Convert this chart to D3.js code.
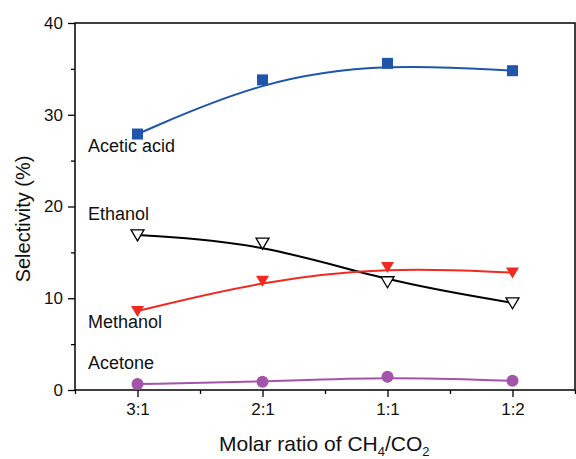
<!DOCTYPE html>
<html>
<head>
<meta charset="utf-8">
<script src="https://cdn.jsdelivr.net/npm/d3@7"></script>
<style>
  html, body { margin: 0; padding: 0; background: #fff; }
  svg { display: block; font-family: "Liberation Sans", Arial, sans-serif; }
</style>
</head>
<body>
<div id="chart"></div>
<script>
/* ---------- datos ---------- */
const ratios = ['3:1', '2:1', '1:1', '1:2'];

const aceticAcid = [27.9, 33.8, 35.6, 34.8];
const ethanol    = [16.9, 16.0, 11.8, 9.5];
const methanol   = [8.6, 11.9, 13.4, 12.8];
const acetone    = [0.65, 0.9, 1.45, 1.0];

const yTicks = [0, 10, 20, 30, 40];

// series: nombre, valores, color, marcador
const series = [
  { name: 'Acetic acid', values: aceticAcid, color: '#1F55AB', marker: 'square',  labelY: 25.9 },
  { name: 'Ethanol',     values: ethanol,    color: '#000000', marker: 'triOpen', labelY: 18.5 },
  { name: 'Methanol',    values: methanol,   color: '#F02A20', marker: 'triFill', labelY: 6.75 },
  { name: 'Acetone',     values: acetone,    color: '#A453AB', marker: 'circle',  labelY: 2.3 }
];

/* ---------- layout ---------- */
const W = 576, H = 459;
const plot = { left: 75, right: 575, top: 23, bottom: 390 };

const svg = d3.select('#chart').append('svg')
  .attr('width', W).attr('height', H);

// x: índice de categoría, con medio paso de margen
const x = d3.scaleLinear().domain([-0.5, ratios.length - 0.5]).range([plot.left, plot.right]);
const y = d3.scaleLinear().domain([0, 40]).range([plot.bottom, plot.top]);

/* ---------- ejes ---------- */
const xAxis = d3.axisBottom(x)
  .tickValues(d3.range(ratios.length))
  .tickFormat(i => ratios[i])
  .tickSize(7).tickPadding(6);

const xMinor = d3.axisBottom(x)
  .tickValues(d3.range(-0.5, ratios.length, 1))
  .tickFormat('').tickSize(4);

const yAxis = d3.axisLeft(y)
  .tickValues(yTicks)
  .tickSize(7).tickPadding(5);

const yMinor = d3.axisLeft(y)
  .tickValues([5, 15, 25, 35])
  .tickFormat('').tickSize(4);

function styleAxis(g) {
  g.select('.domain').remove();
  g.selectAll('line').attr('stroke', '#000').attr('stroke-width', 1.3);
  g.selectAll('text').attr('fill', '#111').style('font-size', '17px');
}

svg.append('g').attr('transform', `translate(0,${plot.bottom})`).call(xAxis).call(styleAxis);
svg.append('g').attr('transform', `translate(0,${plot.bottom})`).call(xMinor).call(styleAxis);
svg.append('g').attr('transform', `translate(${plot.left},0)`).call(yAxis).call(styleAxis);
svg.append('g').attr('transform', `translate(${plot.left},0)`).call(yMinor).call(styleAxis);

// marco
svg.append('rect')
  .attr('x', plot.left).attr('y', plot.top)
  .attr('width', plot.right - plot.left).attr('height', plot.bottom - plot.top)
  .attr('fill', 'none').attr('stroke', '#000').attr('stroke-width', 1.5);

/* ---------- títulos ---------- */
svg.append('text')
  .attr('transform', `translate(30,219) rotate(-90)`)
  .attr('text-anchor', 'middle')
  .style('font-size', '20px').attr('fill', '#111')
  .text('Selectivity (%)');

const xt = svg.append('text')
  .attr('x', 219).attr('y', 451)
  .style('font-size', '21px').attr('fill', '#111');
xt.append('tspan').text('Molar ratio of CH');
xt.append('tspan').attr('dy', 5).style('font-size', '13px').text('4');
xt.append('tspan').attr('dy', -5).text('/CO');
xt.append('tspan').attr('dy', 5).style('font-size', '13px').text('2');

/* ---------- curvas ---------- */
const line = d3.line()
  .x((d, i) => x(i))
  .y(d => y(d))
  .curve(d3.curveBasis);

const triDown = 'M-6.5,-5 L6.5,-5 L0,6 Z';

series.forEach(s => {
  svg.append('path')
    .attr('d', line(s.values))
    .attr('fill', 'none')
    .attr('stroke', s.color)
    .attr('stroke-width', 2);

  const g = svg.append('g');
  s.values.forEach((v, i) => {
    const cx = x(i), cy = y(v);
    if (s.marker === 'square') {
      g.append('rect').attr('x', cx - 5.5).attr('y', cy - 5.5)
        .attr('width', 11).attr('height', 11).attr('fill', s.color);
    } else if (s.marker === 'circle') {
      g.append('circle').attr('cx', cx).attr('cy', cy).attr('r', 6).attr('fill', s.color);
    } else if (s.marker === 'triFill') {
      g.append('path').attr('d', triDown).attr('transform', `translate(${cx},${cy})`)
        .attr('fill', s.color);
    } else {
      g.append('path').attr('d', triDown).attr('transform', `translate(${cx},${cy})`)
        .attr('fill', '#fff').attr('stroke', '#000').attr('stroke-width', 1.3);
    }
  });

  svg.append('text')
    .attr('x', 88).attr('y', y(s.labelY))
    .style('font-size', '18px').attr('fill', '#111')
    .text(s.name);
});
</script>
</body>
</html>
